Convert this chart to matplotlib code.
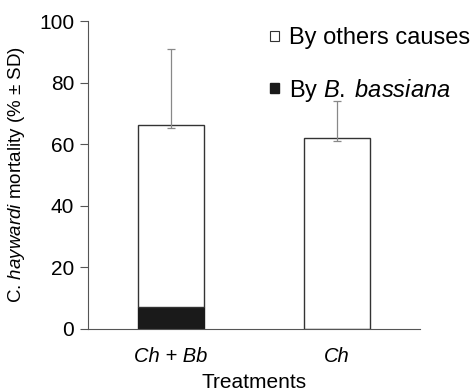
import matplotlib.pyplot as plt
from matplotlib.patches import Patch

plt.rcParams['font.family'] = ['Liberation Sans', 'DejaVu Sans']
plt.rcParams['mathtext.fontset'] = 'custom'
plt.rcParams['mathtext.rm'] = 'Liberation Sans'
plt.rcParams['mathtext.it'] = 'Liberation Sans:italic'

treatments = ['Ch + Bb', 'Ch']
by_bassiana = [7.2, 0.0]
by_others = [59.1, 62.1]
sd_upper = [24.5, 12.0]
sd_lower = [1.0, 1.0]

totals = [a + b for a, b in zip(by_bassiana, by_others)]
x = list(range(len(treatments)))

fig = plt.figure(figsize=(4.73, 3.91), dpi=100)
ax = fig.add_axes([0.186, 0.159, 0.702, 0.787])

ax.bar(x, by_bassiana, width=0.4, color='#1a1a1a', edgecolor='#1a1a1a', linewidth=1)
ax.bar(x, by_others, bottom=by_bassiana, width=0.4, color='white', edgecolor='#333333', linewidth=1)
ax.errorbar(x, totals, yerr=[sd_lower, sd_upper], fmt='none', ecolor='#888888',
            elinewidth=0.9, capsize=3, capthick=0.9)

ax.set_xlim(-0.5, 1.5)
ax.set_ylim(0, 100)
ax.set_yticks([0, 20, 40, 60, 80, 100])
ax.set_xticks(x)
ax.set_xticklabels(treatments, fontstyle='italic')
ax.tick_params(axis='y', labelsize=15, length=6, color='#555555', pad=4)
ax.tick_params(axis='x', labelsize=14.5, length=0, pad=13)
for s in ['top', 'right']:
    ax.spines[s].set_visible(False)
for s in ['left', 'bottom']:
    ax.spines[s].set_color('#555555')

ax.set_xlabel('Treatments', fontsize=15, labelpad=5)
ax.set_ylabel(r'C. $\mathit{haywardi}$ mortality (% ± SD)', fontsize=13.5)
ax.yaxis.set_label_coords(-0.185, 0.5)

handles = [Patch(facecolor='white', edgecolor='#333333', linewidth=0.8),
           Patch(facecolor='#1a1a1a', edgecolor='#1a1a1a')]
labels = ['By others causes', r'By $\mathit{B.\;bassiana}$']
ax.legend(handles, labels, loc='upper left', bbox_to_anchor=(0.52, 1.01), frameon=False,
          fontsize=17, handlelength=0.36, handleheight=0.3, handletextpad=0.45,
          labelspacing=1.15, borderaxespad=0)

fig.savefig('out.png', dpi=100)
